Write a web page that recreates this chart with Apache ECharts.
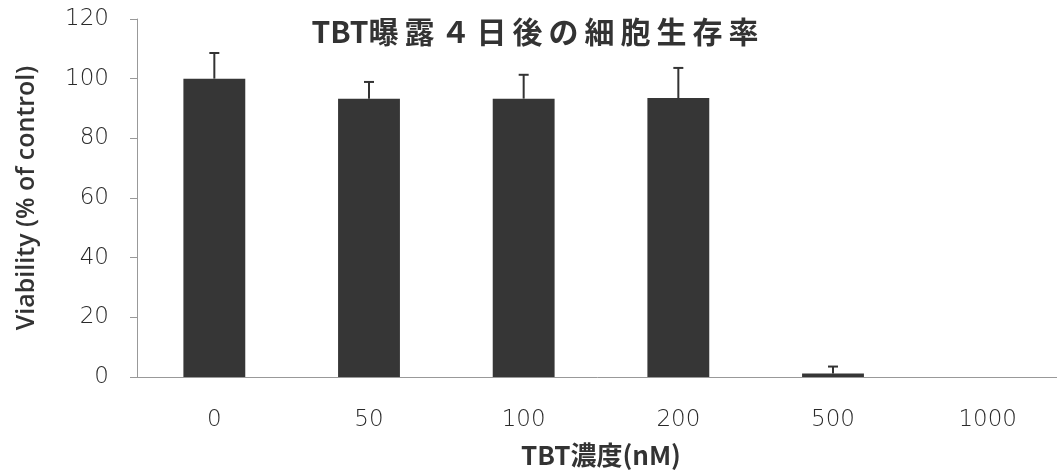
<!DOCTYPE html>
<html>
<head>
<meta charset="utf-8">
<script src="https://cdn.jsdelivr.net/npm/echarts@6/dist/echarts.min.js"></script>
<style>
  html, body { margin: 0; padding: 0; background: #fff; }
  #chart { width: 1057px; height: 474px; }
</style>
</head>
<body>
<div id="chart"></div>
<script>
// TBT concentrations (nM)
const concentrations = ["0", "50", "100", "200", "500", "1000"];
// mean viability (% of control)
const viability = [100, 93.3, 93.3, 93.5, 1.2, 0];
// error bar size (upper only)
const errorSize = [8.6, 5.6, 8.0, 10.1, 2.3, 0];

const chart = echarts.init(document.getElementById("chart"));

const errorData = viability.map((v, i) => [i, v, v + errorSize[i]]);

const tickFont = {
  fontFamily: "DejaVu Sans",
  fontWeight: 200,
  fontSize: 23,
  color: "#2a2a2a",
};

const option = {
  animation: false,
  title: {
    text: "TBT曝\u2009露\u2009４\u2009日\u2009後\u2009の\u2009細\u2009胞\u2009生\u2009存\u2009率",
    left: 530,
    textAlign: "center",
    top: 12,
    textStyle: {
      fontFamily: "Noto Sans CJK JP",
      fontSize: 30,
      fontWeight: "bold",
      color: "#333",
    },
  },
  grid: {
    left: 137,
    right: -8,
    top: 19,
    bottom: 97,
    outerBoundsMode: "none",
  },
  xAxis: {
    type: "category",
    data: concentrations,
    name: "TBT濃度(nM)",
    nameLocation: "middle",
    nameGap: 65,
    nameTextStyle: {
      fontFamily: "Noto Sans CJK JP",
      fontSize: 26,
      fontWeight: "bold",
      color: "#333",
    },
    axisLine: { lineStyle: { color: "#999", width: 1 } },
    axisTick: { length: 8, lineStyle: { color: "#999" } },
    axisLabel: Object.assign({ margin: 32 }, tickFont),
  },
  yAxis: {
    type: "value",
    min: 0,
    max: 120,
    interval: 20,
    name: "Viability (% of control)",
    nameLocation: "middle",
    nameGap: 98,
    nameTextStyle: {
      fontFamily: "Open Sans",
      fontSize: 25,
      fontWeight: 600,
      color: "#333",
    },
    axisLine: { show: true, lineStyle: { color: "#999", width: 1 } },
    axisTick: { show: true, length: 7, lineStyle: { color: "#999" } },
    splitLine: { show: false },
    axisLabel: Object.assign({ margin: 28 }, tickFont),
  },
  series: [
    {
      type: "bar",
      data: viability,
      barWidth: "40%",
      itemStyle: { color: "#363636" },
      z: 2,
    },
    {
      // upper error bars
      type: "custom",
      data: errorData,
      z: 3,
      renderItem: (params, api) => {
        const x = api.value(0);
        const base = api.coord([x, api.value(1)]);
        const top = api.coord([x, api.value(2)]);
        if (api.value(2) - api.value(1) <= 0) return;
        const half = 5;
        const style = { stroke: "#333", lineWidth: 2 };
        return {
          type: "group",
          children: [
            {
              type: "line",
              shape: { x1: base[0], y1: base[1], x2: top[0], y2: top[1] },
              style,
            },
            {
              type: "line",
              shape: { x1: top[0] - half, y1: top[1], x2: top[0] + half, y2: top[1] },
              style,
            },
          ],
        };
      },
    },
  ],
};

chart.setOption(option);
</script>
</body>
</html>
